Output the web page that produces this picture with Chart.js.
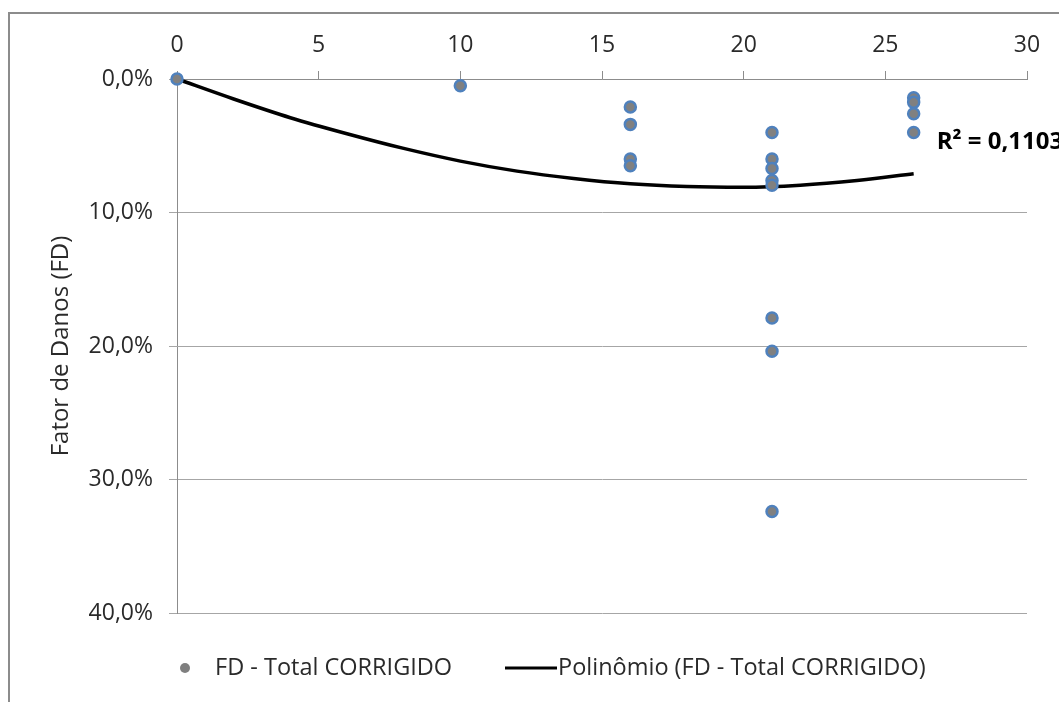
<!DOCTYPE html>
<html>
<head>
<meta charset="utf-8">
<script src="https://cdn.jsdelivr.net/npm/chart.js@4.4.0/dist/chart.umd.min.js"></script>
<style>
  html, body { margin: 0; padding: 0; background: #fff; }
  canvas { display: block; }
</style>
</head>
<body>
<canvas id="grafico" width="1059" height="702"></canvas>
<script>
// Dados (x = dias, y = fator de danos em %)
const diasX = [0, 10, 16, 16, 16, 16, 21, 21, 21, 21, 21, 21, 21, 21, 26, 26, 26, 26];
const fatorDanos = [0.0, 0.5, 2.1, 3.4, 6.0, 6.5, 4.0, 6.0, 6.7, 7.6, 7.95, 17.9, 20.4, 32.4, 1.4, 1.75, 2.6, 4.0];

// Linha de tendência polinomial
const tendenciaX = [0, 2, 4, 6, 8, 10, 12, 14, 16, 18, 20, 22, 24, 26];
const tendenciaY = [0.0, 1.5, 2.9, 4.1, 5.2, 6.15, 6.9, 7.45, 7.85, 8.05, 8.1, 7.95, 7.6, 7.1];

const legendaPontos = "FD - Total CORRIGIDO";
const legendaLinha = "Polinômio (FD - Total CORRIGIDO)";
const rotuloR2 = "R² = 0,1103";
const tituloY = "Fator de Danos (FD)";

const FONTE = "'Open Sans', sans-serif";
const COR_TEXTO = "#2a2a2a";
const COR_EIXO = "#8c8c8c";
const COR_GRADE = "#a6a6a6";

//------- Plugin: fundo, moldura, R² e legenda ---------------
const extras = {
  id: "extras",
  beforeDraw(chart) {
    const ctx = chart.ctx;
    ctx.save();
    ctx.fillStyle = "#fff";
    ctx.fillRect(0, 0, chart.width, chart.height);
    ctx.strokeStyle = COR_EIXO;
    ctx.lineWidth = 2;
    ctx.strokeRect(9, 13, chart.width + 40, chart.height + 40);
    ctx.restore();
  },
  afterDraw(chart) {
    const ctx = chart.ctx;
    const sx = chart.scales.x, sy = chart.scales.y;
    ctx.save();
    // rótulo R²
    ctx.font = "bold 24px " + FONTE;
    ctx.fillStyle = "#000";
    ctx.textBaseline = "middle";
    ctx.fillText(rotuloR2, sx.getPixelForValue(26) + 23, sy.getPixelForValue(4.75));

    // legenda
    const ly = 668;
    ctx.font = "23.5px " + FONTE;
    ctx.beginPath();
    ctx.arc(185, ly, 5, 0, Math.PI * 2);
    ctx.fillStyle = "#7f7f7f";
    ctx.fill();
    ctx.fillStyle = COR_TEXTO;
    ctx.fillText(legendaPontos, 215, ly);

    ctx.strokeStyle = "#000";
    ctx.lineWidth = 3;
    ctx.beginPath();
    ctx.moveTo(505, ly);
    ctx.lineTo(557, ly);
    ctx.stroke();
    ctx.fillText(legendaLinha, 558, ly);
    ctx.restore();
  }
};

new Chart(document.getElementById("grafico"), {
  type: "scatter",
  data: {
    datasets: [
      {
        label: legendaPontos,
        data: diasX.map((x, i) => ({ x: x, y: fatorDanos[i] })),
        backgroundColor: "#808080",
        borderColor: "#4f81bd",
        borderWidth: 2.5,
        pointRadius: 5.5,
        clip: false
      },
      {
        label: legendaLinha,
        data: tendenciaX.map((x, i) => ({ x: x, y: tendenciaY[i] })),
        showLine: true,
        borderColor: "#000",
        borderWidth: 3.5,
        pointRadius: 0,
        cubicInterpolationMode: "monotone",
        clip: false
      }
    ]
  },
  options: {
    responsive: false,
    animation: false,
    devicePixelRatio: 1,
    layout: { padding: { left: 0, top: 0, right: 32, bottom: 89 } },
    plugins: {
      legend: { display: false },
      tooltip: { enabled: false }
    },
    scales: {
      x: {
        type: "linear",
        position: "top",
        min: 0,
        max: 30,
        ticks: { stepSize: 5, font: { family: FONTE, size: 23 }, color: COR_TEXTO, padding: 12 },
        grid: { drawOnChartArea: false, drawTicks: true, tickLength: 8, color: COR_EIXO },
        border: { color: COR_EIXO, width: 1 },
        afterFit: (s) => { s.height = 79; }
      },
      y: {
        reverse: true,
        min: 0,
        max: 40,
        ticks: {
          stepSize: 10,
          font: { family: FONTE, size: 23 },
          color: COR_TEXTO,
          padding: 16,
          callback: (v) => v.toFixed(1).replace(".", ",") + "%"
        },
        grid: { color: COR_GRADE, tickLength: 8 },
        border: { color: COR_EIXO, width: 1 },
        title: {
          display: true,
          text: tituloY,
          font: { family: FONTE, size: 24 },
          color: COR_TEXTO,
          padding: { top: 47, bottom: 0 }
        },
        afterFit: (s) => { s.width = 177; }
      }
    }
  },
  plugins: [extras]
});
</script>
</body>
</html>
